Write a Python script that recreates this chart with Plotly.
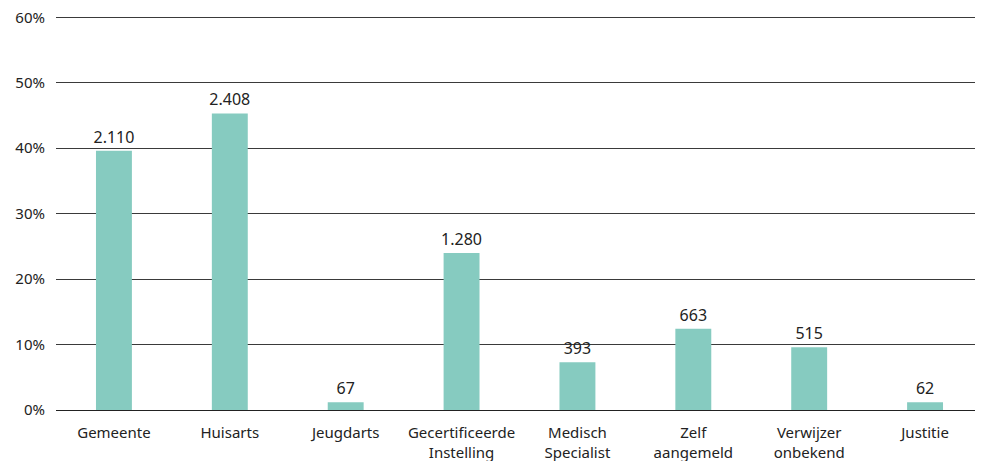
import plotly.graph_objects as go

categories = ["Gemeente", "Huisarts", "Jeugdarts", "Gecertificeerde<br>Instelling",
              "Medisch<br>Specialist", "Zelf<br>aangemeld", "Verwijzer<br>onbekend", "Justitie"]
percentages = [39.6, 45.3, 1.2, 24.0, 7.3, 12.4, 9.6, 1.2]
counts = [2110, 2408, 67, 1280, 393, 663, 515, 62]
y_ticks = [0, 10, 20, 30, 40, 50, 60]
y_tick_labels = ["0%", "10%", "20%", "30%", "40%", "50%", "60%"]

labels = [f"{c:,}".replace(",", ".") for c in counts]

fig = go.Figure(go.Bar(
    x=categories, y=percentages, text=labels, textposition="outside",
    textfont=dict(size=16, color="#222"), cliponaxis=False, constraintext="none",
    marker=dict(color="#86CBC0", line=dict(width=0)),
))

fig.update_layout(
    width=975, height=453,
    margin=dict(l=48, r=0, t=6, b=51, autoexpand=False),
    paper_bgcolor="white", plot_bgcolor="white",
    font=dict(family="Noto Sans", size=15, color="#222"),
    bargap=0.69, showlegend=False,
    xaxis=dict(showgrid=False, showline=False, ticks="", tickfont=dict(size=15),
               automargin=False, ticklabelstandoff=12, ticklabeloverflow="allow"),
    yaxis=dict(range=[0, 60.5], tickvals=y_ticks, ticktext=y_tick_labels, showgrid=True,
               gridcolor="#3a3a3a", gridwidth=1, zeroline=True, zerolinecolor="#222",
               zerolinewidth=1, showline=False, ticks="", tickfont=dict(size=15),
               automargin=False, ticklabelstandoff=10, ticklabeloverflow="allow"),
)

fig.write_html("out.html")
